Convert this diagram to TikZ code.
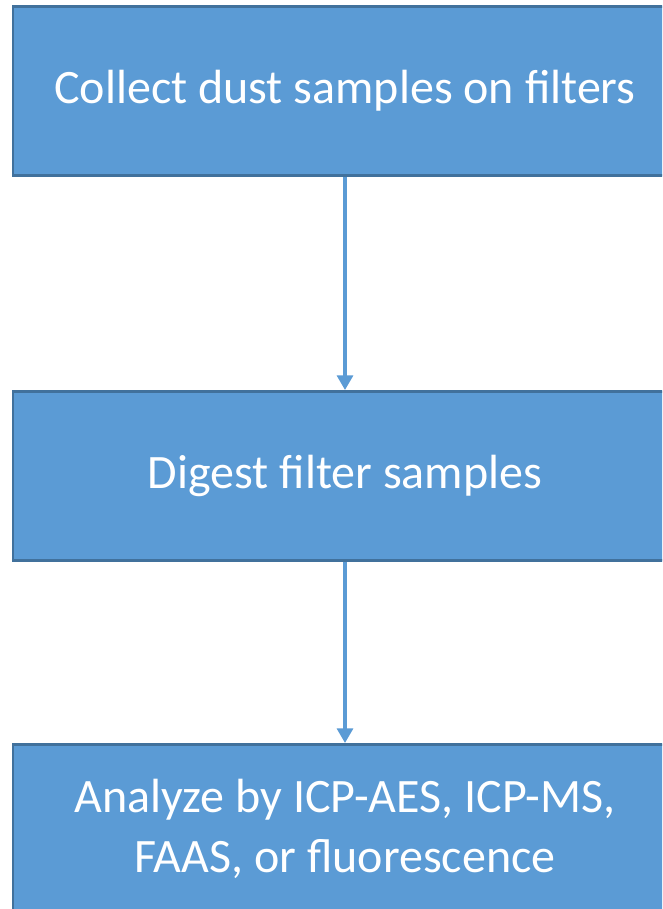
\documentclass[tikz,border=0pt]{standalone}
\usepackage{fontspec}
\setmainfont{Carlito}
\usepackage{tikz}
\usetikzlibrary{arrows.meta}

\definecolor{boxfill}{HTML}{5B9BD5}
\definecolor{boxline}{HTML}{41719C}

\tikzset{
  stepbox/.style={draw=boxline, line width=2pt, fill=boxfill, text=white,
    minimum width=498pt, minimum height=127pt, align=center,
    font=\fontsize{36}{45}\selectfont},
  flow/.style={draw=boxfill, line width=2.4pt, -{Triangle[width=12pt,length=11pt]}}
}

\begin{document}
\begin{tikzpicture}[x=0.75pt,y=-0.75pt]
        \clip (0,0) rectangle (662,909);
        \fill[white] (0,0) rectangle (662,909);
        \node[stepbox] (collect) at (345,91) {Collect dust samples on filters};
        \node[stepbox] (digest) at (345,476) {Digest filter samples};
        \node[stepbox] (analyze) at (345,829) {Analyze by ICP-AES, ICP-MS,\\FAAS, or fluorescence};
        \draw[flow] (collect) -- (digest);
        \draw[flow] (digest) -- (analyze);
      \end{tikzpicture}
\end{document}
